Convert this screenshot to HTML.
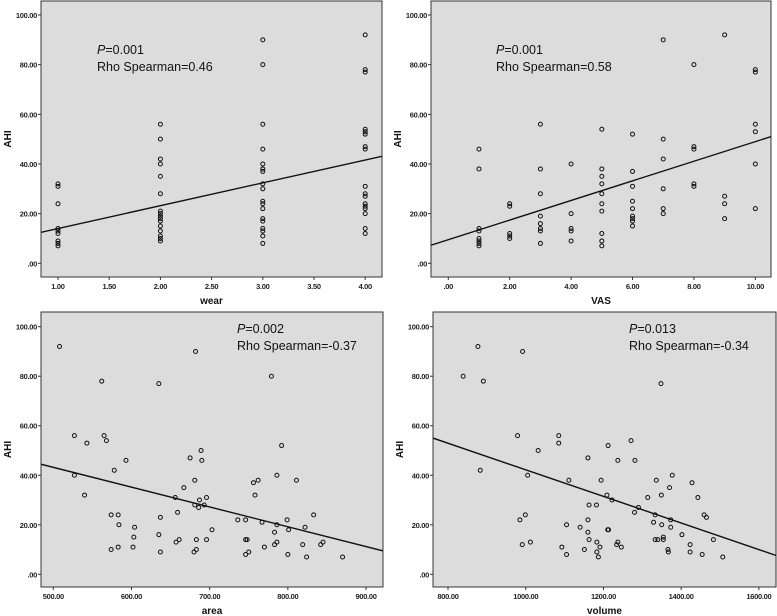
<!DOCTYPE html>
<html><head><meta charset="utf-8"><style>
body{margin:0;background:#fff;}
svg{display:block;font-family:"Liberation Sans",Arial,sans-serif;}
.tick{font-size:7.5px;font-weight:bold;fill:#222;letter-spacing:-0.3px;}
.ttl{font-size:10px;font-weight:bold;fill:#111;}
.ann{font-size:12.5px;fill:#111;}
</style></head><body>
<svg id="c" width="777" height="616" viewBox="0 0 777 616" xmlns="http://www.w3.org/2000/svg"></svg>
<script>
// Panel 1: wear
const wearX=[1,1,1,1,1,1,1,1,1,2,2,2,2,2,2,2,2,2,2,2,2,2,2,2,2,3,3,3,3,3,3,3,3,3,3,3,3,3,3,3,3,3,3,4,4,4,4,4,4,4,4,4,4,4,4,4,4,4,4,4];
const wearY=[32,31,24,14,13,12,9,8,7,56,50,42,40,35,28,21,20,19,18,17,15,13,11,10,9,90,80,56,46,40,38,37,32,30,25,24,22,18,17,14,13,11,8,92,78,77,54,53,52,47,46,31,28,27,24,23,22,20,14,12];
const wearTicks=[1,1.5,2,2.5,3,3.5,4];
const wearFit=[4.8,9.2];
// Panel 2: VAS
const vasX=[1,1,1,1,1,1,1,1,2,2,2,2,2,3,3,3,3,3,3,3,3,4,4,4,4,4,5,5,5,5,5,5,5,5,5,5,6,6,6,6,6,6,6,6,6,7,7,7,7,7,7,8,8,8,8,8,9,9,9,9,10,10,10,10,10,10];
const vasY=[46,38,14,13,10,9,8,7,24,23,12,11,10,56,38,28,19,16,14,13,8,40,20,14,13,9,54,38,35,32,28,24,21,12,9,7,52,37,31,25,22,19,18,17,15,90,50,42,30,22,20,80,47,46,32,31,92,27,24,18,78,77,56,53,40,22];
const vasTicks=[0,2,4,6,8,10];
const vasFit=[9.5,3.95];
// Panel 3: area
const areaX=[508,527,527,540,543,562,565,568,578,574,574,583,584,583,593,602,603,604,635,635,637,637,656,659,657,661,667,675,682,681,681,683,683,680,686,687,689,690,693,696,696,703,736,746,746,748,746,750,756,758,762,767,770,779,783,783,786,786,786,792,799,800,801,811,819,822,824,833,842,845,870];
const areaY=[92,56,40,32,53,78,56,54,42,24,10,24,20,11,46,11,15,19,77,16,23,9,31,25,13,14,35,47,90,38,28,14,10,9,27,30,50,46,28,31,14,18,22,22,14,14,8,9,37,32,38,21,11,80,17,12,20,13,40,52,22,8,18,38,12,19,7,24,12,13,7];
const areaTicks=[500,600,700,800,900];
const areaFit=[83.2,-0.08];
// Panel 4: volume
const volX=[839,877,891,883,979,985,991,992,999,1005,1012,1032,1085,1085,1093,1105,1105,1111,1140,1151,1160,1160,1160,1163,1163,1182,1183,1183,1187,1191,1194,1209,1211,1212,1213,1222,1234,1237,1237,1246,1271,1280,1281,1290,1314,1329,1333,1333,1340,1336,1348,1349,1350,1354,1354,1366,1367,1370,1373,1373,1377,1402,1423,1423,1428,1443,1454,1459,1465,1483,1507];
const volY=[80,92,78,42,56,22,12,90,24,40,13,50,56,53,11,20,8,38,19,10,47,22,17,28,14,28,13,9,7,11,38,32,18,52,18,30,12,13,46,11,54,25,46,27,31,21,24,14,14,38,77,32,20,15,14,10,9,35,22,19,40,16,12,9,37,31,8,24,23,14,7];
const volTicks=[800,1000,1200,1400,1600];
const volFit=[95.9,-0.0537];
const yTicks=[0,20,40,60,80,100];

const svg=document.getElementById('c');
const NS='http://www.w3.org/2000/svg';
function mk(tag,at,parent){const e=document.createElementNS(NS,tag);for(const k in at)e.setAttribute(k,at[k]);(parent||svg).appendChild(e);return e;}
function fmt(v){let s=v.toFixed(2);if(s.startsWith('0'))s=s.slice(1);return s;}

function panel(name,L,R,T,B,xmin,xmax,y100,y0,xs,ys,ticks,fit,xt,annX,annY,pv,rho){
  const g=mk('g',{});
  
  
  const X=v=>L+(v-xmin)/(xmax-xmin)*(R-L);
  const Y=v=>y0+(y100-y0)*v/100;
  const bg=mk('rect',{x:L,y:T,width:R-L,height:B-T,fill:'#dcdcdc',stroke:'#333','stroke-width':1},g);
  
  
  yTicks.forEach(t=>{
    mk('line',{x1:L-3,x2:L,y1:Y(t),y2:Y(t),stroke:'#333'},g);
    const tx=mk('text',{x:L-4,y:Y(t)+3,'text-anchor':'end',class:'tick'},g);tx.textContent=fmt(t);
    
    
  });
  ticks.forEach(t=>{
    mk('line',{x1:X(t),x2:X(t),y1:B,y2:B+3,stroke:'#333'},g);
    const tx=mk('text',{x:X(t),y:B+12,'text-anchor':'middle',class:'tick'},g);tx.textContent=fmt(t);
    
    
  });
  const xtl=mk('text',{x:(L+R)/2,y:B+27,'text-anchor':'middle',class:'ttl'},g);xtl.textContent=xt;
  
  
  const ytl=mk('text',{x:0,y:0,'text-anchor':'middle',class:'ttl',transform:`translate(${L-30},${(T+B)/2}) rotate(-90)`},g);ytl.textContent='AHI';
  
  
  const cp='cp'+name;
  const cl=mk('clipPath',{id:cp},g);mk('rect',{x:L,y:T,width:R-L,height:B-T},cl);
  const ln=mk('line',{x1:X(xmin),y1:Y(fit[0]+fit[1]*xmin),x2:X(xmax),y2:Y(fit[0]+fit[1]*xmax),stroke:'#111','stroke-width':1.4,'clip-path':`url(#${cp})`},g);
  
  
  xs.forEach((v,i)=>{
    const c=mk('circle',{cx:X(v),cy:Y(ys[i]),r:2,fill:'none',stroke:'#111','stroke-width':1},g);
    
    
  });
  const a1=mk('text',{x:annX,y:annY,class:'ann'},g);
  a1.innerHTML='<tspan font-style="italic">P</tspan>='+pv;
  
  
  const a2=mk('text',{x:annX,y:annY+17,class:'ann'},g);a2.textContent='Rho Spearman='+rho;
  
  
}
panel('wear-panel',41,382,1,277,0.834,4.164,15,263.3,wearX,wearY,wearTicks,wearFit,'wear',97,54,'0.001','0.46');
panel('vas-panel',431,771,1,277,-0.563,10.51,15,263.3,vasX,vasY,vasTicks,vasFit,'VAS',496,54,'0.001','0.58');
panel('area-panel',41,383,312,587,484.3,921.7,326.7,574.3,areaX,areaY,areaTicks,areaFit,'area',237,333,'0.002','-0.37');
panel('volume-panel',433,776,312,587,761.4,1644,326.7,574.3,volX,volY,volTicks,volFit,'volume',629,333,'0.013','-0.34');
</script>
</body></html>
